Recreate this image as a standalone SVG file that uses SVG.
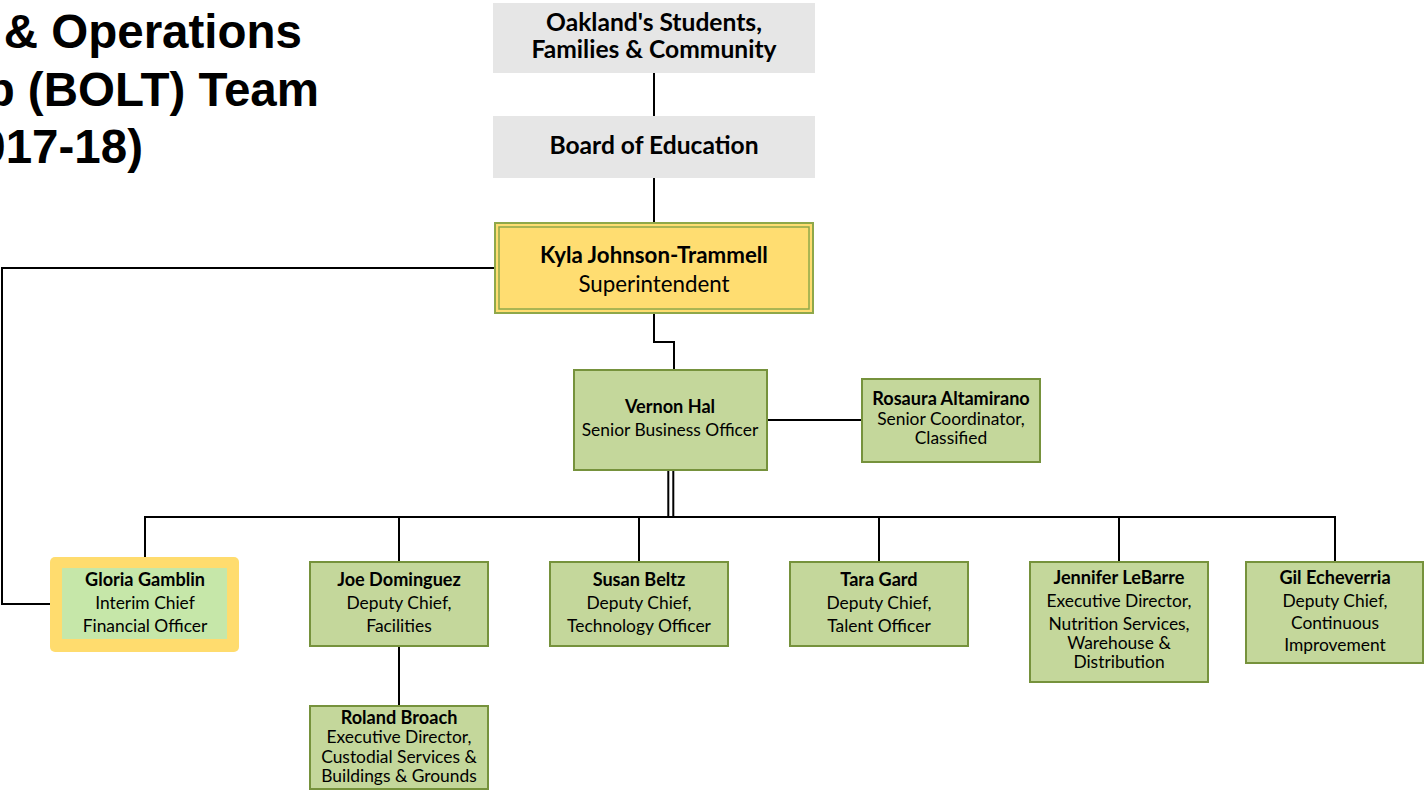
<svg xmlns="http://www.w3.org/2000/svg" width="1425" height="791" viewBox="0 0 1425 791">
<style>
.title{font-family:"Liberation Sans",Arial,sans-serif;font-weight:bold;font-size:47.5px;fill:#000}
.t{font-family:Lato,"Open Sans",sans-serif;fill:#000;text-anchor:middle}
.top{font-size:24.6px;font-weight:bold}
.sup{font-size:22.3px}
.n{font-size:17.4px}
.b{font-weight:bold;font-size:18.1px}
.gray{fill:#E6E6E6}
.green{fill:#C4D79B;stroke:#76923C;stroke-width:2}
.ln{fill:none;stroke:#000;stroke-width:2}
</style>
<rect width="1425" height="791" fill="#fff"/>
<g id="title">
<text class="title" x="302" y="48" text-anchor="end">&amp; Operations</text>
<text class="title" x="319" y="106" text-anchor="end">p (BOLT) Team</text>
<text class="title" x="143" y="163" text-anchor="end">017-18)</text>
</g>
<g id="connectors">
<path class="ln" d="M654,73 V116 M654,178 V222"/>
<path class="ln" d="M654,314 V342 H674 V370"/>
<path class="ln" d="M494,268 H2 V604 H52"/>
<path class="ln" d="M767,420 H862"/>
<path class="ln" d="M668.3,471 V517 M673.3,471 V517"/>
<path class="ln" d="M145,562 V517 H1335 V562"/>
<path class="ln" d="M399,517 V562 M639,517 V562 M879,517 V562 M1119,517 V562"/>
<path class="ln" d="M399,646 V706"/>
</g>
<g id="community">
<rect class="gray" x="493" y="3" width="322" height="70"/>
<text class="t top" x="654" y="31">Oakland's Students,</text>
<text class="t top" x="654" y="58">Families &amp; Community</text>
</g>
<g id="board">
<rect class="gray" x="493" y="116" width="322" height="62"/>
<text class="t top" x="654" y="154">Board of Education</text>
</g>
<g id="superintendent">
<rect x="495" y="223" width="318" height="90" fill="#FFDD71" stroke="#8FA84A" stroke-width="2"/>
<rect x="499" y="227" width="310" height="82" fill="none" stroke="#8FA84A" stroke-width="1.5"/>
<text class="t sup" x="654" y="263" font-weight="bold">Kyla Johnson-Trammell</text>
<text class="t sup" x="654" y="292">Superintendent</text>
</g>
<g id="vernon">
<rect class="green" x="574" y="370" width="193" height="100"/>
<text class="t n b" x="670" y="413">Vernon Hal</text>
<text class="t n" x="670" y="436">Senior Business Officer</text>
</g>
<g id="rosaura">
<rect class="green" x="862" y="379" width="178" height="83"/>
<text class="t n b" x="951" y="405">Rosaura Altamirano</text>
<text class="t n" x="951" y="425">Senior Coordinator,</text>
<text class="t n" x="951" y="444">Classified</text>
</g>
<g id="gloria">
<rect x="50" y="557" width="189" height="95" rx="5" fill="#FFDC6E"/>
<rect x="62" y="568" width="165" height="71" fill="#C6E7A9"/>
<text class="t n b" x="145" y="586">Gloria Gamblin</text>
<text class="t n" x="145" y="609">Interim Chief</text>
<text class="t n" x="145" y="632">Financial Officer</text>
</g>
<g id="joe">
<rect class="green" x="310" y="562" width="178" height="84"/>
<text class="t n b" x="399" y="586">Joe Dominguez</text>
<text class="t n" x="399" y="609">Deputy Chief,</text>
<text class="t n" x="399" y="632">Facilities</text>
</g>
<g id="roland">
<rect class="green" x="310" y="706" width="178" height="83"/>
<text class="t n b" x="399" y="724">Roland Broach</text>
<text class="t n" x="399" y="743">Executive Director,</text>
<text class="t n" x="399" y="763">Custodial Services &amp;</text>
<text class="t n" x="399" y="782">Buildings &amp; Grounds</text>
</g>
<g id="susan">
<rect class="green" x="550" y="562" width="178" height="84"/>
<text class="t n b" x="639" y="586">Susan Beltz</text>
<text class="t n" x="639" y="609">Deputy Chief,</text>
<text class="t n" x="639" y="632">Technology Officer</text>
</g>
<g id="tara">
<rect class="green" x="790" y="562" width="178" height="84"/>
<text class="t n b" x="879" y="586">Tara Gard</text>
<text class="t n" x="879" y="609">Deputy Chief,</text>
<text class="t n" x="879" y="632">Talent Officer</text>
</g>
<g id="jennifer">
<rect class="green" x="1030" y="562" width="178" height="120"/>
<text class="t n b" x="1119" y="584">Jennifer LeBarre</text>
<text class="t n" x="1119" y="607">Executive Director,</text>
<text class="t n" x="1119" y="630">Nutrition Services,</text>
<text class="t n" x="1119" y="649">Warehouse &amp;</text>
<text class="t n" x="1119" y="668">Distribution</text>
</g>
<g id="gil">
<rect class="green" x="1246" y="562" width="177" height="101"/>
<text class="t n b" x="1335" y="584">Gil Echeverria</text>
<text class="t n" x="1335" y="607">Deputy Chief,</text>
<text class="t n" x="1335" y="629">Continuous</text>
<text class="t n" x="1335" y="651">Improvement</text>
</g>
</svg>
